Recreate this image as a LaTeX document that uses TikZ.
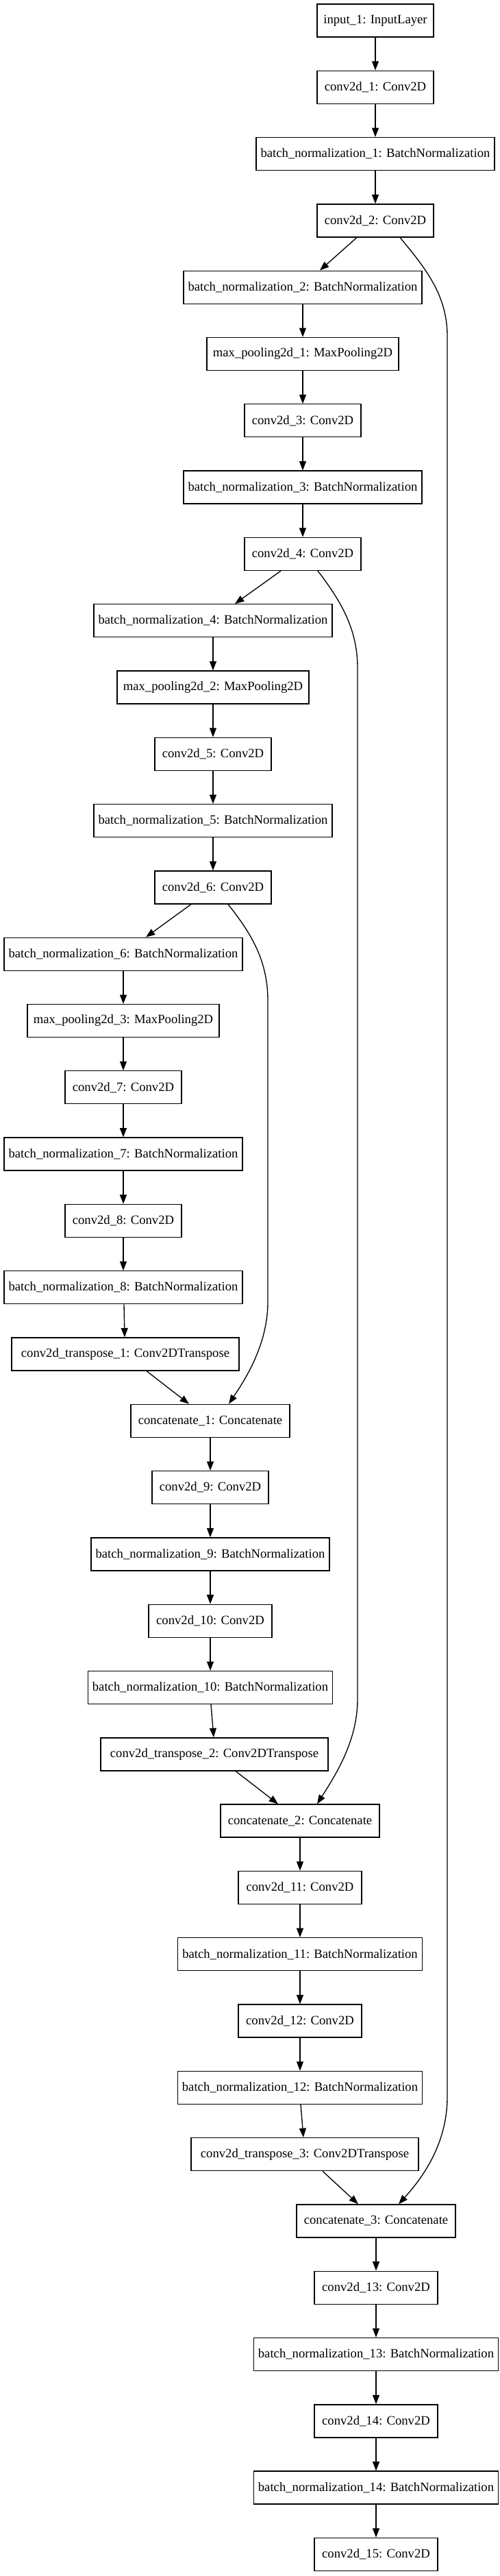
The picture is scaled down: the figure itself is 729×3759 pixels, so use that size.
\documentclass[tikz,border=0pt]{standalone}
\usepackage{fontspec}
\setmainfont{Liberation Serif}
\usetikzlibrary{arrows.meta,calc}
\begin{document}
\begin{tikzpicture}[x=0.75pt,y=-0.75pt,
  layer/.style={draw=black,line width=1pt,minimum height=36pt,inner xsep=2pt,inner ysep=0pt,
    font=\fontsize{14pt}{16pt}\selectfont,anchor=center},
  wconv/.style={layer,minimum width=127.5pt},
  wconvb/.style={layer,minimum width=135pt},
  wbn/.style={layer,minimum width=261pt},
  wbnb/.style={layer,minimum width=267.5pt},
  wmp/.style={layer,minimum width=210pt},
  wtr/.style={layer,minimum width=249pt},
  wcat/.style={layer,minimum width=174pt},
  link/.style={line width=1pt,-{Triangle[length=10pt,width=7.5pt]}}
]
\useasboundingbox (0,0) rectangle (729,3759);

\node[wconv] (in1) at (548,{30+97.3*0}) {input\_1: InputLayer};
\node[wconv] (c1) at (548,{30+97.3*1}) {conv2d\_1: Conv2D};
\node[wbn] (bn1) at (548,{30+97.3*2}) {batch\_normalization\_1: BatchNormalization};
\node[wconv] (c2) at (548,{30+97.3*3}) {conv2d\_2: Conv2D};
\node[wbn] (bn2) at (442,{30+97.3*4}) {batch\_normalization\_2: BatchNormalization};
\node[wmp] (mp1) at (442,{30+97.3*5}) {max\_pooling2d\_1: MaxPooling2D};
\node[wconv] (c3) at (442,{30+97.3*6}) {conv2d\_3: Conv2D};
\node[wbn] (bn3) at (442,{30+97.3*7}) {batch\_normalization\_3: BatchNormalization};
\node[wconv] (c4) at (442,{30+97.3*8}) {conv2d\_4: Conv2D};
\node[wbn] (bn4) at (311,{30+97.3*9}) {batch\_normalization\_4: BatchNormalization};
\node[wmp] (mp2) at (311,{30+97.3*10}) {max\_pooling2d\_2: MaxPooling2D};
\node[wconv] (c5) at (311,{30+97.3*11}) {conv2d\_5: Conv2D};
\node[wbn] (bn5) at (311,{30+97.3*12}) {batch\_normalization\_5: BatchNormalization};
\node[wconv] (c6) at (311,{30+97.3*13}) {conv2d\_6: Conv2D};
\node[wbn] (bn6) at (180,{30+97.3*14}) {batch\_normalization\_6: BatchNormalization};
\node[wmp] (mp3) at (180,{30+97.3*15}) {max\_pooling2d\_3: MaxPooling2D};
\node[wconv] (c7) at (180,{30+97.3*16}) {conv2d\_7: Conv2D};
\node[wbn] (bn7) at (180,{30+97.3*17}) {batch\_normalization\_7: BatchNormalization};
\node[wconv] (c8) at (180,{30+97.3*18}) {conv2d\_8: Conv2D};
\node[wbn] (bn8) at (180,{30+97.3*19}) {batch\_normalization\_8: BatchNormalization};
\node[wtr] (t1) at (183,{30+97.3*20}) {conv2d\_transpose\_1: Conv2DTranspose};
\node[wcat] (cat1) at (307,{30+97.3*21}) {concatenate\_1: Concatenate};
\node[wconv] (c9) at (307,{30+97.3*22}) {conv2d\_9: Conv2D};
\node[wbn] (bn9) at (307,{30+97.3*23}) {batch\_normalization\_9: BatchNormalization};
\node[wconvb] (c10) at (307,{30+97.3*24}) {conv2d\_10: Conv2D};
\node[wbnb] (bn10) at (307,{30+97.3*25}) {batch\_normalization\_10: BatchNormalization};
\node[wtr] (t2) at (313,{30+97.3*26}) {conv2d\_transpose\_2: Conv2DTranspose};
\node[wcat] (cat2) at (438,{30+97.3*27}) {concatenate\_2: Concatenate};
\node[wconvb] (c11) at (438,{30+97.3*28}) {conv2d\_11: Conv2D};
\node[wbnb] (bn11) at (438,{30+97.3*29}) {batch\_normalization\_11: BatchNormalization};
\node[wconvb] (c12) at (438,{30+97.3*30}) {conv2d\_12: Conv2D};
\node[wbnb] (bn12) at (438,{30+97.3*31}) {batch\_normalization\_12: BatchNormalization};
\node[wtr] (t3) at (445,{30+97.3*32}) {conv2d\_transpose\_3: Conv2DTranspose};
\node[wcat] (cat3) at (549,{30+97.3*33}) {concatenate\_3: Concatenate};
\node[wconvb] (c13) at (549,{30+97.3*34}) {conv2d\_13: Conv2D};
\node[wbnb] (bn13) at (549,{30+97.3*35}) {batch\_normalization\_13: BatchNormalization};
\node[wconvb] (c14) at (549,{30+97.3*36}) {conv2d\_14: Conv2D};
\node[wbnb] (bn14) at (549,{30+97.3*37}) {batch\_normalization\_14: BatchNormalization};
\node[wconvb] (c15) at (549,{30+97.3*38}) {conv2d\_15: Conv2D};

% straight edges
\foreach \a/\b in {in1/c1,c1/bn1,bn1/c2,bn2/mp1,mp1/c3,c3/bn3,bn3/c4,
  bn4/mp2,mp2/c5,c5/bn5,bn5/c6,bn6/mp3,mp3/c7,c7/bn7,bn7/c8,c8/bn8,
  cat1/c9,c9/bn9,bn9/c10,c10/bn10,cat2/c11,c11/bn11,bn11/c12,c12/bn12,
  cat3/c13,c13/bn13,bn13/c14,c14/bn14,bn14/c15}
  \draw[link] (\a.south) -- (\b.north);

% slanted edges
\draw[link] ($(c2.south)+(-27,0)$) -- ($(bn2.north)+(25,0)$);
\draw[link] ($(c4.south)+(-32,0)$) -- ($(bn4.north)+(32,0)$);
\draw[link] ($(c6.south)+(-32,0)$) -- ($(bn6.north)+(33,0)$);
\draw[link] ($(bn8.south)+(1,0)$) -- ($(t1.north)+(-1,0)$);
\draw[link] ($(t1.south)+(31,0)$) -- ($(cat1.north)+(-31,0)$);
\draw[link] ($(bn10.south)+(1,0)$) -- ($(t2.north)+(-1,0)$);
\draw[link] ($(t2.south)+(31,0)$) -- ($(cat2.north)+(-32,0)$);
\draw[link] ($(bn12.south)+(1,0)$) -- ($(t3.north)+(-2,0)$);
\draw[link] ($(t3.south)+(26,0)$) -- ($(cat3.north)+(-26,0)$);

% skip connections
\draw[link] ($(c2.south)+(36,0)$) .. controls (620,390) and (653,430) .. (653,490)
  -- (653,3060) .. controls (653,3130) and (615,3180) .. ($(cat3.north)+(33,0)$);
\draw[link] ($(c4.south)+(22,0)$) .. controls (500,880) and (522,920) .. (522,975)
  -- (522,2480) .. controls (522,2540) and (490,2590) .. ($(cat2.north)+(25,0)$);
\draw[link] ($(c6.south)+(22,0)$) .. controls (365,1360) and (391,1400) .. (391,1460)
  -- (391,1900) .. controls (391,1960) and (360,2010) .. ($(cat1.north)+(27,0)$);
\end{tikzpicture}
\end{document}
